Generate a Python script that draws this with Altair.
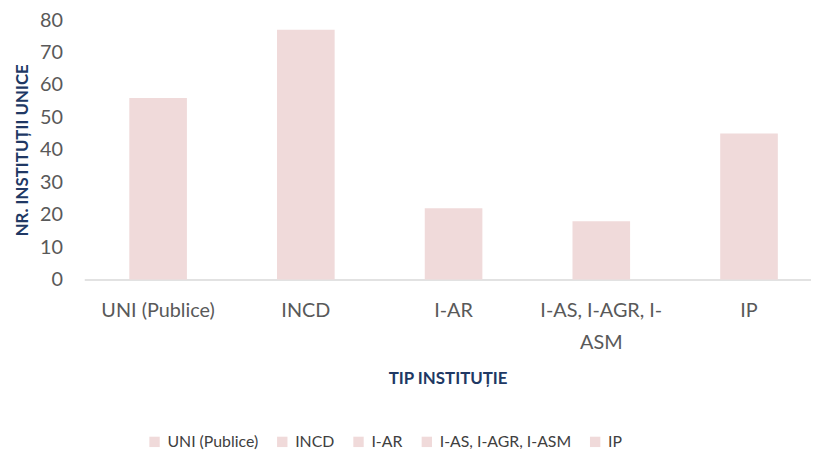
import altair as alt
import pandas as pd

categories = ["UNI (Publice)", "INCD", "I-AR", "I-AS, I-AGR, I-ASM", "IP"]
values = [56, 77, 22, 18, 45]

df = pd.DataFrame({"tip": categories, "nr": values})

BAR = "#F0DADA"
FONT = "Lato"

bars = alt.Chart(df).mark_bar(color=BAR).encode(
    x=alt.X(
        "tip:N",
        sort=categories,
        scale=alt.Scale(paddingInner=0.61, paddingOuter=0.305),
        axis=alt.Axis(
            title="TIP INSTITUȚIE",
            titleX=367,
            labelAngle=0,
            ticks=False,
            domainColor="#D9D9D9",
            domainWidth=1.5,
            labelColor="#595959",
            labelFont=FONT,
            labelFontSize=20,
            labelPadding=21,
            labelLineHeight=33,
            labelBaseline="top",
            labelExpr="datum.label == 'I-AS, I-AGR, I-ASM' ? ['I-AS, I-AGR, I-', 'ASM'] : datum.label",
            titleColor="#203864",
            titleFont=FONT,
            titleFontSize=17,
            titleFontWeight="bold",
            titlePadding=18,
        ),
    ),
    y=alt.Y(
        "nr:Q",
        scale=alt.Scale(domain=[0, 80], nice=False),
        axis=alt.Axis(
            title="NR. INSTITUȚII UNICE",
            values=[0, 10, 20, 30, 40, 50, 60, 70, 80],
            grid=False,
            ticks=False,
            domain=False,
            labelColor="#595959",
            labelFont=FONT,
            labelFontSize=20,
            labelPadding=22,
            titleColor="#203864",
            titleFont=FONT,
            titleFontSize=17,
            titleFontWeight="bold",
            titlePadding=8,
        ),
    ),
    color=alt.Color(
        "tip:N",
        sort=categories,
        scale=alt.Scale(domain=categories, range=[BAR] * 5),
        legend=alt.Legend(
            title=None,
            orient="none",
            direction="horizontal",
            legendX=63,
            legendY=418,
            symbolType="square",
            symbolSize=110,
            symbolStrokeWidth=0,
            labelFont=FONT,
            labelFontSize=16,
            labelColor="#404040",
            labelOffset=5,
            columnPadding=16,
        ),
    ),
)

chart = bars.properties(
    width=746,
    height=262,
    autosize=alt.AutoSizeParams(type="none"),
    padding={"left": 77, "top": 10, "right": -12, "bottom": 170},
).configure_view(stroke=None)

chart.save("out.html", embed_options={"renderer": "svg", "actions": False})
